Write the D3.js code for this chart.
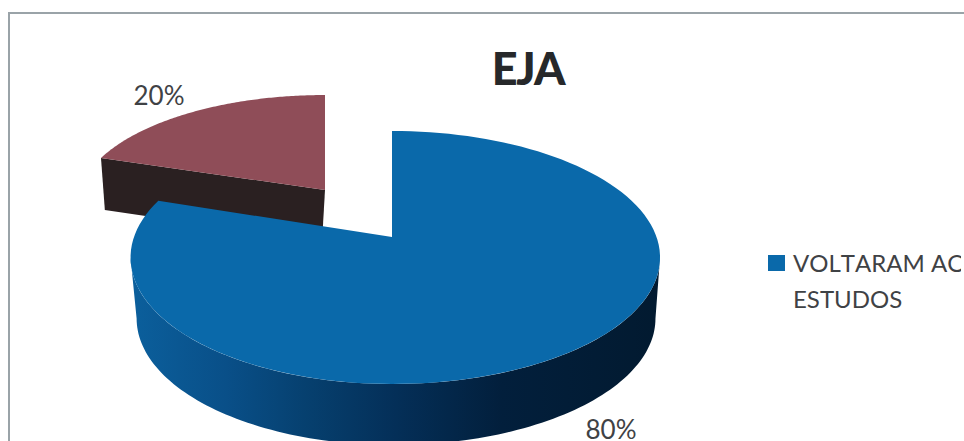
<!DOCTYPE html>
<html lang="pt">
<head>
<meta charset="utf-8">
<title>EJA</title>
<script src="https://cdn.jsdelivr.net/npm/d3@7"></script>
<style>
  html, body { margin: 0; padding: 0; background: #ffffff; }
  svg { display: block; }
  text { font-family: Lato, "Open Sans", sans-serif; fill: #3f4245; font-kerning: none; }
</style>
</head>
<body>
<script>
// Chart content
const chartTitle = "EJA";
const categories = ["VOLTARAM AOS ESTUDOS", "NÃO VOLTARAM"];
const values = [80, 20];
const valueLabels = ["80%", "20%"];
const legendLines = ["VOLTARAM AOS", "ESTUDOS"];

const width = 964, height = 441;
const svg = d3.select("body").append("svg")
  .attr("width", width).attr("height", height);

const defs = svg.append("defs");
defs.append("clipPath").attr("id", "legend-clip")
  .append("rect").attr("x", 700).attr("y", 200).attr("width", 261).attr("height", 160);

// Shading along the curved side of the large slice
const wallGrad = defs.append("linearGradient").attr("id", "wall-blue")
  .attr("gradientUnits", "userSpaceOnUse")
  .attr("x1", 132).attr("x2", 660).attr("y1", 0).attr("y2", 0);
[[0, "#0b5f9c"], [0.18, "#094f88"], [0.33, "#06406f"], [0.5, "#042f58"], [0.7, "#021f3c"], [1, "#021a30"]]
  .forEach(([o, c]) => wallGrad.append("stop").attr("offset", o).attr("stop-color", c));

// Frame of the chart area: top and left edges only
svg.append("path")
  .attr("d", d3.line()([[964, 13], [9, 13], [9, 441]]))
  .attr("fill", "none").attr("stroke", "#9aa3a8").attr("stroke-width", 2);

// Perspective view of a pie lying on a plane: the apex stays fixed and
// the far side of the rim is foreshortened.
const projector = ({xa, ya, left, right, along, k}) => (theta, r = 1) => {
  const X = r * Math.sin(theta), Z = r * Math.cos(theta), w = 1 + k * Z;
  return [xa + (X < 0 ? left : right) * X / w, ya - along * Z / w];
};

const pie = d3.pie().sort(null).startAngle(0).endAngle(2 * Math.PI);
const arcs = pie(values);
const sample = (a, b) => d3.range(0, 121).map(i => a + (b - a) * i / 120);
const outline = d3.line();

// Small slice, pulled out of the pie
const redTop = projector({xa: 325, ya: 190, left: 245.5, right: 245.5, along: 108, k: 0.137});
const redLow = projector({xa: 322, ya: 242, left: 238, right: 238, along: 108, k: 0.137});
const red = arcs[1];
svg.append("path")
  .attr("d", outline([
    redTop(red.startAngle), redTop(0, 0), redLow(0, 0), redLow(red.startAngle)
  ]) + "Z")
  .attr("fill", "#2a2021");
svg.append("path")
  .attr("d", outline([redTop(0, 0), ...sample(red.startAngle, red.endAngle).map(t => redTop(t))]) + "Z")
  .attr("fill", "#8f4d58");

// Large slice: curved side first, then the top face
const blueTop = projector({xa: 392, ya: 237, left: 258, right: 264.5, along: 123.2, k: 0.162});
const blueLow = projector({xa: 393, ya: 237 + 61, left: 253, right: 259, along: 123.2, k: 0.162});
const blue = arcs[0];
const tangent = Math.acos(-0.162);
const front = sample(tangent, 2 * Math.PI - tangent);
svg.append("path")
  .attr("d", outline([...front.map(t => blueTop(t)), ...front.slice().reverse().map(t => blueLow(t))]) + "Z")
  .attr("fill", "url(#wall-blue)");
svg.append("path")
  .attr("d", outline([blueTop(0, 0), ...sample(blue.startAngle, blue.endAngle).map(t => blueTop(t))]) + "Z")
  .attr("fill", "#0a69aa");

// Title and value labels
svg.append("text").attr("x", 528).attr("y", 85).attr("text-anchor", "middle")
  .attr("font-size", 45).attr("font-weight", 900).attr("letter-spacing", -1.5)
  .style("fill", "#26282a").text(chartTitle);
svg.append("text").attr("x", 611).attr("y", 438.5).attr("text-anchor", "middle")
  .attr("font-size", 26).text(valueLabels[0]);
svg.append("text").attr("x", 159).attr("y", 105).attr("text-anchor", "middle")
  .attr("font-size", 26).text(valueLabels[1]);

// Legend, cut off by the right edge of the chart object
const legend = svg.append("g").attr("clip-path", "url(#legend-clip)");
legend.append("rect").attr("x", 768).attr("y", 255).attr("width", 17).attr("height", 16).attr("fill", "#0a69aa");
legend.selectAll("text.entry").data(legendLines).join("text")
  .attr("class", "entry").attr("x", 793).attr("y", (d, i) => 272 + i * 36)
  .attr("font-size", 24).text(d => d);
</script>
</body>
</html>
